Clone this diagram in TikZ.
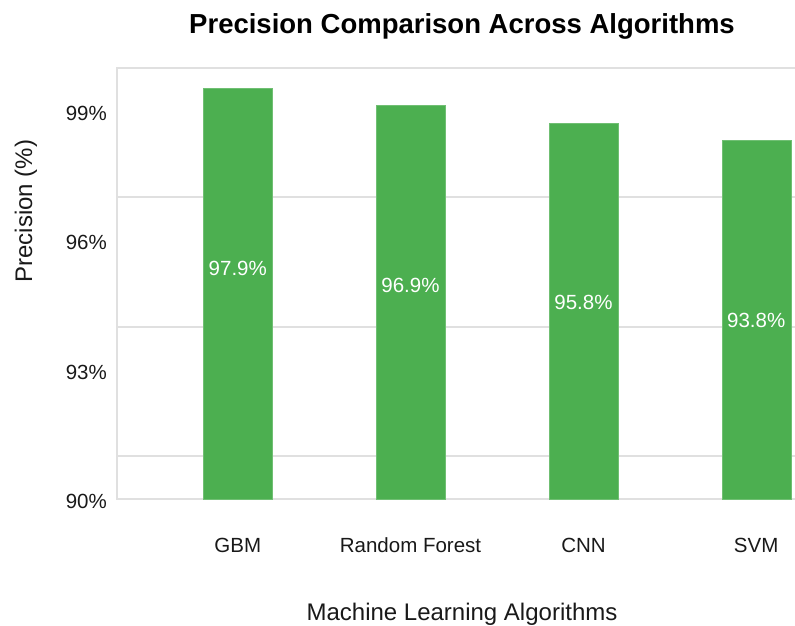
\documentclass[tikz,border=0pt]{standalone}
\usepackage{fontspec}
\setmainfont{Liberation Sans}
\definecolor{bargreen}{HTML}{4CAF50}
\definecolor{gridgray}{HTML}{E0E0E0}
\begin{document}
\begin{tikzpicture}[x=1pt,y=-1pt,
  gridline/.style={draw=gridgray,line width=1.4pt},
  bar/.style={fill=bargreen,draw=bargreen!80!white,line width=0.6pt},
  ticklab/.style={anchor=base east,inner sep=0pt,font=\fontsize{20.5}{24}\selectfont,text=black!90},
  catlab/.style={anchor=base,inner sep=0pt,font=\fontsize{20.5}{24}\selectfont,text=black!90},
  vallab/.style={anchor=base,inner sep=0pt,font=\fontsize{20.5}{24}\selectfont,text=white},
  axtitle/.style={anchor=base,inner sep=0pt,font=\fontsize{24}{28}\selectfont,text=black!90}]
\useasboundingbox (0,0) rectangle (795,626);
% grid
\draw[gridline] (117,68) -- (795,68);
\draw[gridline] (117,197) -- (795,197);
\draw[gridline] (117,327) -- (795,327);
\draw[gridline] (117,456) -- (795,456);
\draw[gridline] (117,499) -- (795,499);
\draw[gridline] (117,67.3) -- (117,499.7);
% bars
\path[bar] (203.5,88.5) rectangle (272,499);
\path[bar] (376.5,105.5) rectangle (445,499);
\path[bar] (549.5,123) rectangle (618,499);
\path[bar] (722.5,140.5) rectangle (791,499);
% value labels
\node[vallab] (v1) at (237.8,275) {97.9\%};
\node[vallab] (v2) at (410.5,292) {96.9\%};
\node[vallab] (v3) at (583.5,309) {95.8\%};
\node[vallab] (v4) at (756.2,327) {93.8\%};
% y tick labels
\node[ticklab] (y99) at (107,120) {99\%};
\node[ticklab] (y96) at (107,249.5) {96\%};
\node[ticklab] (y93) at (107,379) {93\%};
\node[ticklab] (y90) at (107,508) {90\%};
% category labels
\node[catlab] (c1) at (237.8,552) {GBM};
\node[catlab] (c2) at (410.5,552) {Random Forest};
\node[catlab] (c3) at (583.5,552) {CNN};
\node[catlab] (c4) at (756.2,552) {SVM};
% axis titles
\node[axtitle] (xt) at (462,620) {Machine Learning Algorithms};
\node[axtitle,rotate=90] (yt) at (32,211) {Precision (\%)};
% title
\node[anchor=base,inner sep=0pt,font=\bfseries\fontsize{27.5}{32}\selectfont] (title) at (462,34) {Precision Comparison Across Algorithms};
\end{tikzpicture}
\end{document}
